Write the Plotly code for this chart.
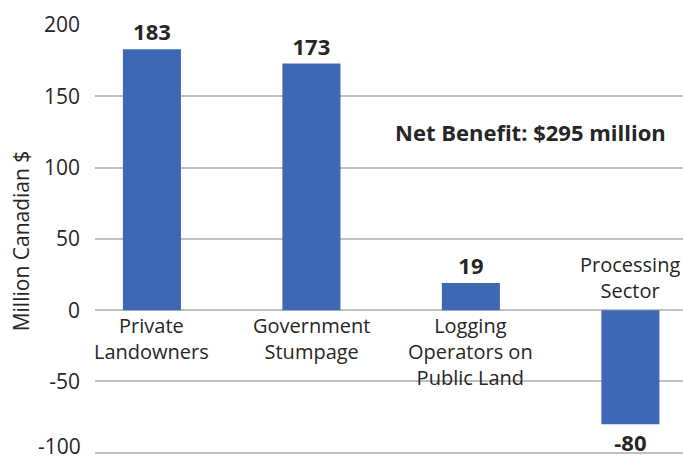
import plotly.graph_objects as go

# Distribution of net benefits by group (million CAD)
categories = ["Private<br>Landowners", "Government<br>Stumpage",
              "Logging<br>Operators on<br>Public Land", "Processing<br>Sector"]
values = [183, 173, 19, -80]
y_ticks = [-100, -50, 0, 50, 100, 150, 200]
net_benefit_label = "Net Benefit: $295 million"

FONT = "Open Sans"
TEXT = "#262626"
BAR = "#3E68B3"
GRID = "#C0C0C0"
TICK_SIZE = 21
TICK_GAP = 14

xs = list(range(len(categories)))

fig = go.Figure()
fig.add_trace(go.Bar(
    x=xs, y=values, width=0.364, marker=dict(color=BAR, line=dict(width=0)),
    text=[str(v) for v in values], textposition="outside",
    textfont=dict(family=FONT, size=22, color=TEXT, weight="bold"),
    cliponaxis=False, hoverinfo="skip",
))

# category labels sit on the zero line: below positive bars, above negative ones
for x, name, v in zip(xs, categories, values):
    fig.add_annotation(
        x=x, y=0, text=name, showarrow=False, xref="x", yref="y",
        yanchor="top" if v >= 0 else "bottom", yshift=0 if v >= 0 else 4,
        font=dict(family=FONT, size=20, color=TEXT), align="center",
    )

fig.add_annotation(
    x=0.74, y=125, xref="paper", yref="y", xanchor="center",
    text=f"<b>{net_benefit_label}</b>",
    showarrow=False, font=dict(family=FONT, size=22, color=TEXT),
)

# the lowest tick label would run off the bottom edge, so it is placed as text,
# nudged up just enough to stay inside the figure
y_min = min(y_ticks)
fig.add_annotation(
    x=0, y=y_min, xref="paper", yref="y", xanchor="right", yanchor="bottom",
    xshift=-TICK_GAP + 2, yshift=-9, text=str(y_min), showarrow=False,
    font=dict(family=FONT, size=TICK_SIZE, color=TEXT),
)

fig.update_layout(
    width=683, height=461, margin=dict(l=95, r=0, t=25, b=4),
    paper_bgcolor="white", plot_bgcolor="white", showlegend=False,
    uniformtext=dict(mode=False),
)
fig.update_xaxes(range=[-0.357, 3.33], showticklabels=False, showgrid=False,
                 zeroline=False, showline=False)
fig.update_yaxes(
    range=[-103, 200], tickvals=y_ticks,
    ticktext=["" if t == y_min else str(t) for t in y_ticks],
    showgrid=True, gridcolor=GRID, gridwidth=1.5,
    zeroline=True, zerolinecolor=GRID, zerolinewidth=1.5, showline=False,
    tickfont=dict(family=FONT, size=TICK_SIZE, color=TEXT), ticklabelstandoff=TICK_GAP,
    title=dict(text="Million Canadian $", font=dict(family=FONT, size=21, color=TEXT),
               standoff=8),
)

fig.write_html("out.html")
